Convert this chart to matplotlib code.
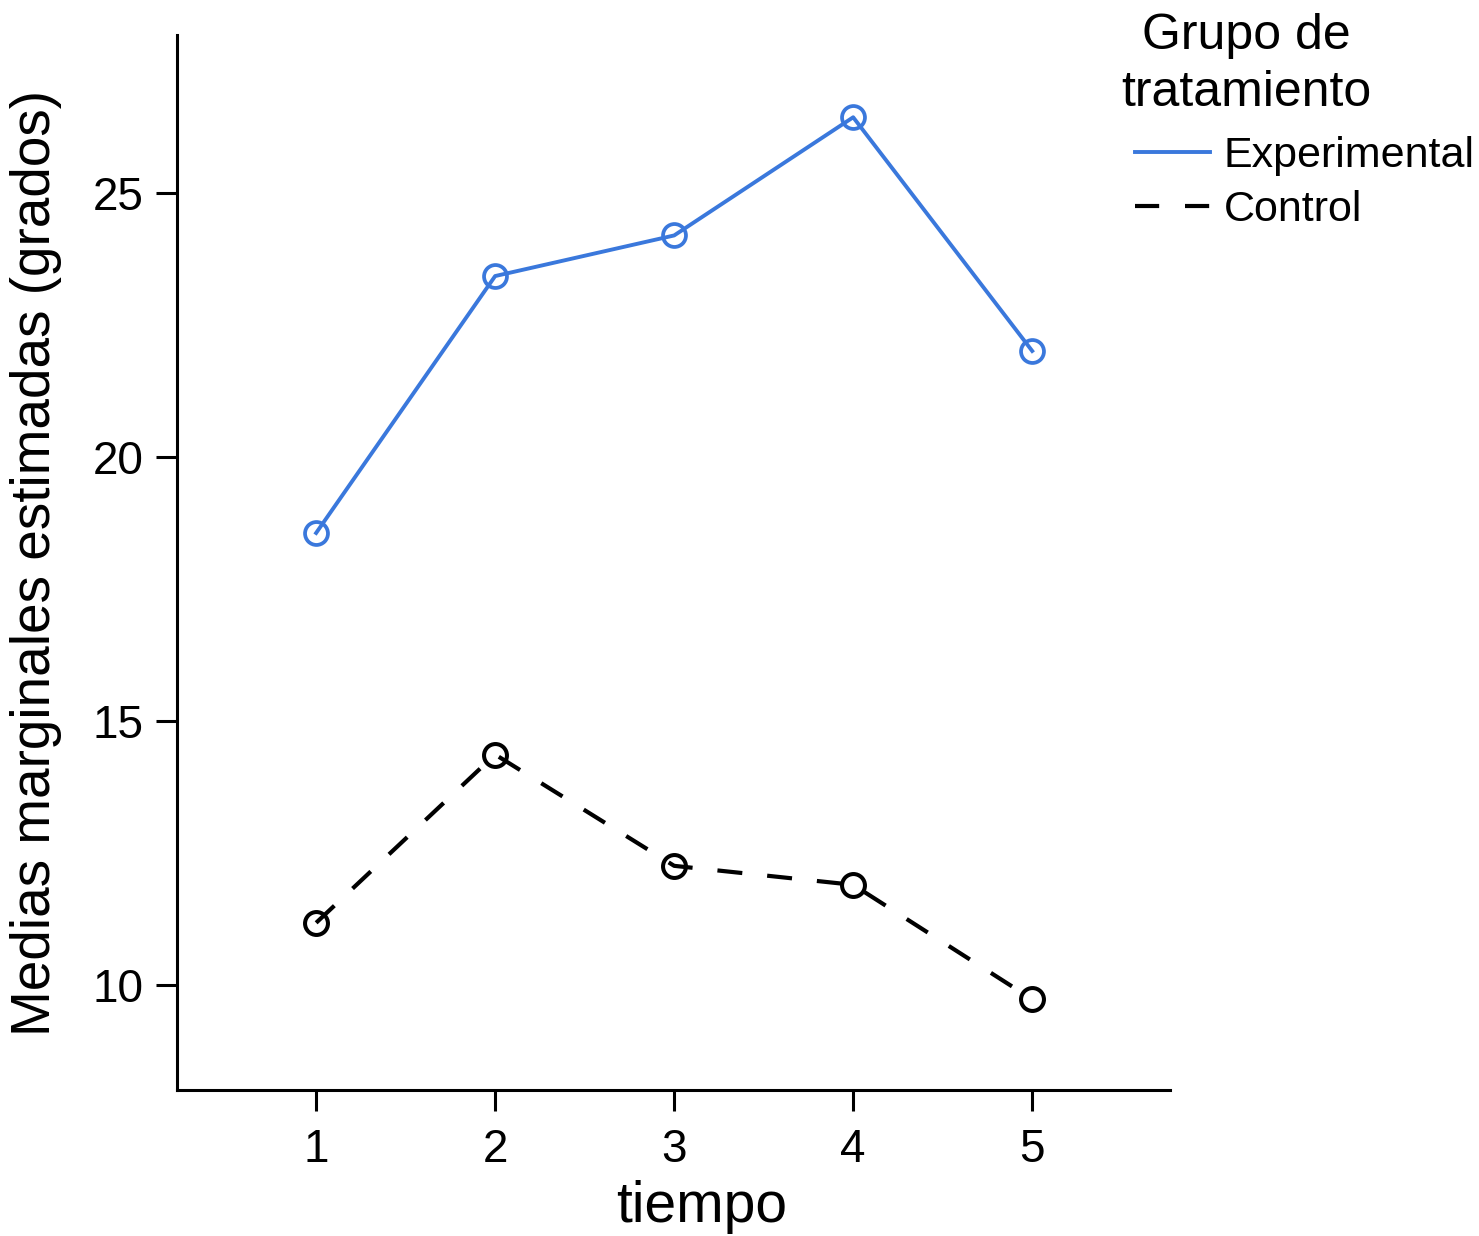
import matplotlib
matplotlib.use("Agg")
import matplotlib.pyplot as plt
from matplotlib.lines import Line2D

plt.rcParams['font.family'] = ['Liberation Sans', 'DejaVu Sans']

# Data
tiempo = [1, 2, 3, 4, 5]
experimental = [18.56, 23.43, 24.20, 26.44, 22.01]
control = [11.17, 14.36, 12.25, 11.89, 9.72]
labels = ['Experimental', 'Control']
colors = ['#3a78dc', '#000000']

fig = plt.figure(figsize=(14.79, 12.36), dpi=100)
ax = fig.add_axes([0.1197, 0.1181, 0.6714, 0.8536])

# markers under the lines
ax.plot(tiempo, experimental, linestyle='none', marker='o', ms=16.5, mfc='none',
        mec=colors[0], mew=2.7, zorder=2)
ax.plot(tiempo, control, linestyle='none', marker='o', ms=16.5, mfc='none',
        mec=colors[1], mew=2.9, zorder=2)
ax.plot(tiempo, experimental, color=colors[0], lw=2.8, zorder=3)
ax.plot(tiempo, control, color=colors[1], lw=3.0, dashes=(6, 6), zorder=3)

ax.set_xlim(0.223, 5.77)
ax.set_ylim(8, 28)
ax.set_xticks(tiempo)
ax.set_yticks([10, 15, 20, 25])

for s in ['top', 'right']:
    ax.spines[s].set_visible(False)
for s in ['left', 'bottom']:
    ax.spines[s].set_linewidth(2.2)
ax.tick_params(length=15, width=2.2, labelsize=33, pad=9)
ax.tick_params(axis='x', pad=12)

ax.set_xlabel('tiempo', fontsize=41, labelpad=8)
ax.xaxis.set_label_coords(0.528, -0.085)
ax.set_ylabel('Medias marginales estimadas (grados)', fontsize=39.5, labelpad=22)

fig.text(0.843, 0.9895, 'Grupo de\ntratamiento', fontsize=36, ha='center', va='top',
         multialignment='center', linespacing=1.3)
handles = [Line2D([], [], color=colors[0], lw=2.8),
           Line2D([], [], color=colors[1], lw=3.0, dashes=(5.8, 6.2))]
leg = fig.legend(handles, labels, loc='upper left', bbox_to_anchor=(0.7675, 0.890),
                 frameon=False, fontsize=31, handlelength=1.75, handletextpad=0.3,
                 labelspacing=0.33, borderaxespad=0, borderpad=0)

fig.savefig('out.png', dpi=100)
